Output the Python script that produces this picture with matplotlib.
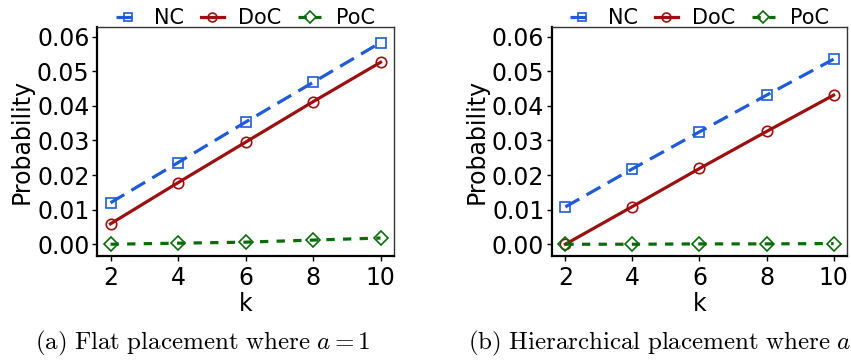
import matplotlib
matplotlib.use("Agg")
import matplotlib.pyplot as plt

plt.rcParams["mathtext.fontset"] = "cm"
plt.rcParams["font.family"] = ["DejaVu Sans"]

k = [2, 4, 6, 8, 10]

# (a) flat placement
nc_flat = [0.0120, 0.0236, 0.0353, 0.0468, 0.0583]
doc_flat = [0.0059, 0.0178, 0.0295, 0.0412, 0.0526]
poc_flat = [0.0000, 0.0003, 0.0006, 0.0012, 0.0018]

# (b) hierarchical placement
nc_hier = [0.0108, 0.0218, 0.0325, 0.0431, 0.0535]
doc_hier = [0.0000, 0.0109, 0.0219, 0.0326, 0.0431]
poc_hier = [0.0000, 0.0000, 0.0001, 0.0001, 0.0002]

yticks = [0.00, 0.01, 0.02, 0.03, 0.04, 0.05, 0.06]
ytick_labels = ["0.00", "0.01", "0.02", "0.03", "0.04", "0.05", "0.06"]

captions = [r"$\mathrm{(a)\ Flat\ placement\ where\ }a = 1$",
            r"$\mathrm{(b)\ Hierarchical\ placement\ where\ }a$"]

blue = "#1f5bd6"
red = "#9b0f0f"
green = "#0b6b0b"

fig = plt.figure(figsize=(8.51, 3.6), dpi=100)
ax_a = fig.add_axes([0.1140, 0.2889, 0.3490, 0.6360])
ax_b = fig.add_axes([0.6486, 0.2889, 0.3467, 0.6360])

panels = [(ax_a, nc_flat, doc_flat, poc_flat),
          (ax_b, nc_hier, doc_hier, poc_hier)]

for ax, nc, doc, poc in panels:
    ax.plot(k, nc, color=blue, lw=2.3, linestyle=(0, (5, 2.6)),
            marker="s", ms=7.5, mfc="none", mec=blue, mew=1.2, label="NC")
    ax.plot(k, doc, color=red, lw=2.3, linestyle="-",
            marker="o", ms=7.5, mfc="none", mec=red, mew=1.2, label="DoC")
    ax.plot(k, poc, color=green, lw=2.3, linestyle=(0, (2.6, 2.6)),
            marker="D", ms=7, mfc="none", mec=green, mew=1.2, label="PoC")

    ax.set_xlim(1.6, 10.4)
    ax.set_ylim(-0.0034, 0.0628)
    ax.set_xticks(k)
    ax.set_yticks(yticks)
    ax.set_yticklabels(ytick_labels)
    ax.tick_params(labelsize=17, length=3.5, width=1, color="black",
                   direction="out", pad=2)
    ax.tick_params(axis="x", pad=4)
    ax.set_xlabel("k", fontsize=17, labelpad=1)
    ax.set_ylabel("Probability", fontsize=17, labelpad=2)

    for side in ["left", "bottom"]:
        ax.spines[side].set_linewidth(1.6)
        ax.spines[side].set_color("black")
    for side in ["top", "right"]:
        ax.spines[side].set_linewidth(1.0)
        ax.spines[side].set_color("#333333")

    ax.legend(loc="lower center", bbox_to_anchor=(0.5, 0.985), ncol=3,
              frameon=False, fontsize=15, handlelength=1.1,
              handletextpad=0.7, columnspacing=0.8, borderaxespad=0,
              borderpad=0.1, markerscale=0.85)

fig.text(0.2385, 0.047, captions[0], fontsize=18, ha="center", va="center")
fig.text(0.550, 0.047, captions[1], fontsize=18, ha="left", va="center")

fig.savefig("out.png", dpi=100)
